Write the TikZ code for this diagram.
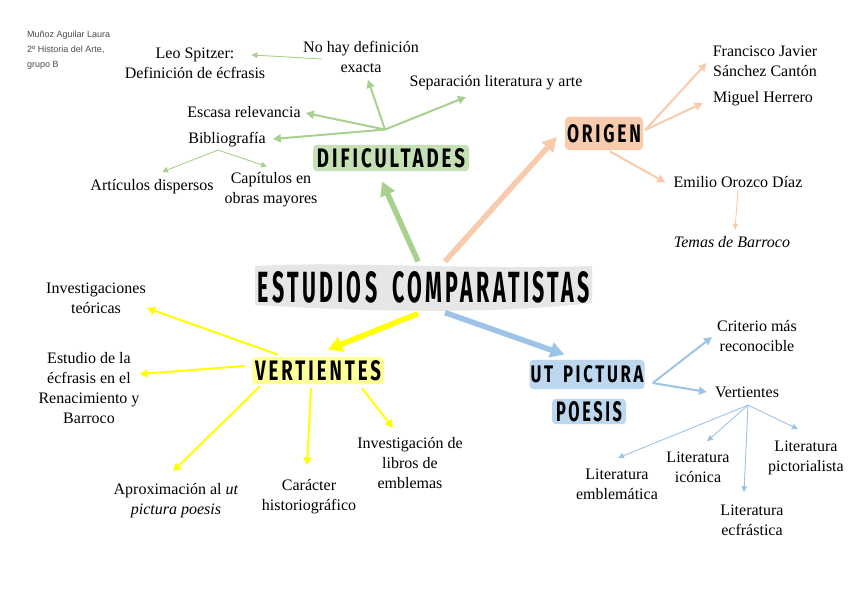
\documentclass[tikz,border=0pt]{standalone}
\usepackage{graphicx}
\usepackage{fontspec}
\setmainfont{Liberation Serif}
\newfontfamily\authfont{Liberation Sans}
\newfontfamily\headfont{Fira Sans}[LetterSpace=16]
\usetikzlibrary{arrows.meta,calc}
\definecolor{gArr}{HTML}{A9D18E}
\definecolor{gBox}{HTML}{C5E0B4}
\definecolor{oArr}{HTML}{F8CBAD}
\definecolor{oBox}{HTML}{F8CBAD}
\definecolor{yArr}{HTML}{FFFF00}
\definecolor{yBox}{HTML}{FFFF99}
\definecolor{bArr}{HTML}{9DC3E6}
\definecolor{bBox}{HTML}{BDD7EE}
\definecolor{band}{HTML}{E7E6E6}
\newcommand{\hd}[3]{\resizebox{#1pt}{#2pt}{\headfont\bfseries #3}}
\begin{document}
\begin{tikzpicture}[x=1pt,y=-1pt,
  txt/.style={align=center,font=\fontsize{16}{20}\selectfont,inner sep=1pt},
  hbox/.style={rounded corners=4pt,inner sep=0pt},
  thickarr/.style={line width=5.5pt,-{Triangle[length=14pt,width=15pt]}},
  medarr/.style={line width=2pt,-{Triangle[length=8pt,width=8pt]}},
  thinarr/.style={line width=0.9pt,-{Triangle[length=6pt,width=5.5pt]}}]
\useasboundingbox (0,0) rectangle (848,599);
\fill[white] (0,0) rectangle (848,599);

% author
\node[anchor=north west,align=left,inner sep=0pt,text=black!70,
  font=\authfont\fontsize{9}{15}\selectfont] (auth) at (27,31)
  {Muñoz Aguilar Laura\\2º Historia del Arte,\\grupo B};

% central title
\fill[band] (255,266) .. controls (350,261) and (470,270) .. (592,266)
  -- (592,303) .. controls (540,309) and (440,316) .. (255,305) -- cycle;
\node[inner sep=0pt] (title) at (424,287.5) {\hd{332}{31}{ESTUDIOS\ \hspace{0.3em}COMPARATISTAS}};

% headings
\node[hbox,fill=gBox,inner xsep=4pt,inner ysep=3.5pt] (dif) at (391,158) {\hd{148}{19}{DIFICULTADES}};
\node[hbox,fill=oBox,inner xsep=2pt,inner ysep=7.5pt] (ori) at (604,133.5) {\hd{74}{18}{ORIGEN}};
\node[hbox,fill=yBox,inner xsep=3pt,inner ysep=3.5pt] (vert) at (318,370.5) {\hd{126}{20}{VERTIENTES}};
\node[hbox,fill=bBox,inner xsep=1pt,inner ysep=6pt] (utp) at (587,374.5) {\hd{113}{17}{UT\ \hspace{0.2em}PICTURA}};
\node[hbox,fill=bBox,inner xsep=4pt,inner ysep=2.5pt] (poe) at (589,411.5) {\hd{66}{20}{POESIS}};

% dificultades texts
\node[txt] (leo) at (195,63.5) {Leo Spitzer:\\Definición de écfrasis};
\node[txt] (nohay) at (361,57) {No hay definición\\exacta};
\node[txt] (sep) at (496,82.5) {Separación literatura y arte};
\node[txt] (esc) at (244,112.5) {Escasa relevancia};
\node[txt] (bib) at (227,140) {Bibliografía};
\node[txt] (art) at (152,187) {Artículos dispersos};
\node[txt] (cap) at (271,190) {Capítulos en\\obras mayores};

% origen texts
\node[txt] (fjs) at (765,61) {Francisco Javier\\Sánchez Cantón};
\node[txt] (mh) at (763,99) {Miguel Herrero};
\node[txt] (emi) at (738,182.5) {Emilio Orozco Díaz};
\node[txt] (tem) at (732,242.5) {\textit{Temas de Barroco}};

% ut pictura texts
\node[txt] (crit) at (757,336.5) {Criterio más\\reconocible};
\node[txt] (vv) at (747,392) {Vertientes};
\node[txt] (lemb) at (617,484.5) {Literatura\\emblemática};
\node[txt] (lico) at (698,467.5) {Literatura\\icónica};
\node[txt] (lecf) at (752,520.5) {Literatura\\ecfrástica};
\node[txt] (lpic) at (806,458) {Literatura\\pictorialista};

% vertientes texts
\node[txt] (inv) at (96,298.5) {Investigaciones\\teóricas};
\node[txt] (est) at (89,388) {Estudio de la\\écfrasis en el\\Renacimiento y\\Barroco};
\node[txt] (apr) at (176,500.5) {Aproximación al \textit{ut}\\\textit{pictura poesis}};
\node[txt] (car) at (309,496.5) {Carácter\\historiográfico};
\node[txt] (invl) at (410,463.5) {Investigación de\\libros de\\emblemas};

% thick arrows from the title
\draw[thickarr,gArr] ([shift={(-6,-10)}]title.north) -- ([shift={(-9,10)}]dif.south);
\draw[thickarr,oArr] ([shift={(21,-10)}]title.north) -- ([shift={(-8,3.5)}]ori.west);
\draw[thickarr,yArr] ([shift={(-6,10)}]title.south) -- ([shift={(10,-7)}]vert.north);
\draw[thickarr,bArr] ([shift={(21,9)}]title.south) -- ([shift={(35,-5)}]utp.north west);

% dificultades
\coordinate (ghub) at ([shift={(-6,-15)}]dif.north);
\draw[medarr,gArr] (ghub) -- ([shift={(7,6)}]nohay.south);
\draw[medarr,gArr] (ghub) -- ([shift={(-30,6)}]sep.south);
\draw[medarr,gArr] (ghub) -- ([shift={(4,0.5)}]esc.east);
\draw[medarr,gArr] (ghub) -- ([shift={(6,-1)}]bib.east);
\draw[thinarr,gArr] ([shift={(20,2)}]nohay.west) -- ([shift={(-15,8)}]leo.north east);
\draw[thinarr,gArr] ([shift={(-9,1.5)}]bib.south) -- ([shift={(10,-6.5)}]art.north);
\draw[thinarr,gArr] ([shift={(-9,1.5)}]bib.south) -- ([shift={(-4,-5)}]cap.north);

% origen
\draw[medarr,oArr] ([shift={(2,-3.5)}]ori.east) -- ([shift={(-5,2)}]fjs.west);
\draw[medarr,oArr] ([shift={(2,-3.5)}]ori.east) -- ([shift={(-9,4)}]mh.west);
\draw[medarr,oArr] ([shift={(6,1)}]ori.south) -- ([shift={(-7,0)}]emi.west);
\draw[thinarr,oArr] ([shift={(0,1)}]emi.south) -- ([shift={(3,-6)}]tem.north);

% ut pictura
\coordinate (bhub) at ([shift={(8,8.5)}]utp.east);
\draw[medarr,bArr] (bhub) -- ([shift={(-4,0.5)}]crit.west);
\draw[medarr,bArr] (bhub) -- ([shift={(-7,0)}]vv.west);
\coordinate (vhub) at ([shift={(1,6.5)}]vv.south);
\draw[thinarr,bArr] (vhub) -- ([shift={(1,-10)}]lemb.north);
\draw[thinarr,bArr] (vhub) -- ([shift={(9,-9.7)}]lico.north);
\draw[thinarr,bArr] (vhub) -- ([shift={(-8,-11.7)}]lecf.north);
\draw[thinarr,bArr] (vhub) -- ([shift={(-8,-10.7)}]lpic.north);

% vertientes
\draw[medarr,yArr] ([shift={(26,-2)}]vert.north west) -- ([shift={(0,-7)}]inv.south east);
\draw[medarr,yArr] ([shift={(-7,-4.5)}]vert.west) -- ([shift={(-1,-14)}]est.east);
\draw[medarr,yArr] ([shift={(8,2)}]vert.south west) -- ([shift={(-3,-10.7)}]apr.north);
\draw[medarr,yArr] ([shift={(-7,4)}]vert.south) -- ([shift={(-2,-12.7)}]car.north);
\draw[medarr,yArr] ([shift={(-22,4)}]vert.south east) -- ([shift={(-17,-8.7)}]invl.north);
\end{tikzpicture}
\end{document}
